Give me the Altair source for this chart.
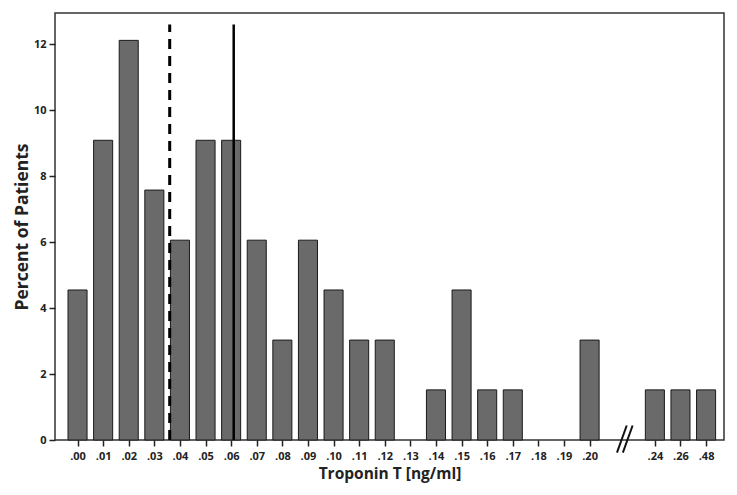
import altair as alt
import pandas as pd

# ---- data ----
labels = [".00", ".01", ".02", ".03", ".04", ".05", ".06", ".07", ".08", ".09",
          ".10", ".11", ".12", ".13", ".14", ".15", ".16", ".17", ".18", ".19",
          ".20", ".24", ".26", ".48"]
percent = [4.55, 9.09, 12.12, 7.58, 6.06, 9.09, 9.09, 6.06, 3.03, 6.06,
           4.55, 3.03, 3.03, 0, 1.52, 4.55, 1.52, 1.52, 0, 0,
           3.03, 1.52, 1.52, 1.52]
dashed_cutoff = 0.036   # ng/ml
solid_cutoff = 0.061    # ng/ml
line_top = 12.6
y_ticks = [0, 2, 4, 6, 8, 10, 12]

# ---- layout helpers ----
BREAK_SHIFT = 1.55
BAR_HALF = 0.372


def slot(i):
    return i if i <= 20 else i + BREAK_SHIFT


pos = [float(slot(i)) for i in range(len(labels))]
df = pd.DataFrame({"label": labels, "percent": percent, "pos": pos})
df = df[df["percent"] > 0].copy()
df["x0"] = df["pos"] - BAR_HALF
df["x1"] = df["pos"] + BAR_HALF

FONT = "Open Sans"
xscale = alt.Scale(domain=[-0.88, 25.25], nice=False, zero=False)
yscale = alt.Scale(domain=[0, 12.95], nice=False, zero=False)

label_js = "[" + ",".join(f"'{l}'" for l in labels) + "]"
xaxis = alt.Axis(
    values=pos,
    labelExpr=f"{label_js}[datum.value < 21 ? round(datum.value) : round(datum.value - {BREAK_SHIFT})]",
    title="Troponin T [ng/ml]",
    grid=False, domain=False,
    labelOverlap=False, labelBound=False, labelFlush=False,
    tickSize=6, tickColor="#222", tickWidth=1.5,
    labelFont=FONT, labelFontSize=11, labelFontWeight="bold", labelColor="#222",
    labelPadding=4, labelAngle=0,
    titleFont=FONT, titleFontSize=15.5, titleFontWeight="bold", titleColor="#222",
    titlePadding=5,
)
yaxis = alt.Axis(
    values=y_ticks,
    title="Percent of Patients",
    grid=False, domain=False,
    labelOverlap=False,
    tickSize=6, tickColor="#222", tickWidth=1.5,
    labelFont=FONT, labelFontSize=11, labelFontWeight="bold", labelColor="#222",
    labelPadding=3,
    titleFont=FONT, titleFontSize=17.5, titleFontWeight="bold", titleColor="#222",
    titlePadding=2,
)

bars = alt.Chart(df).mark_bar(fill="#6a6a6a", stroke="#1a1a1a", strokeWidth=1).encode(
    x=alt.X("x0:Q", scale=xscale, axis=xaxis),
    x2="x1:Q",
    y=alt.Y("percent:Q", scale=yscale, axis=yaxis),
    y2=alt.datum(0),
)

lines_df = pd.DataFrame({"x": [dashed_cutoff * 100, solid_cutoff * 100],
                         "kind": ["dashed", "solid"]})
dashed = alt.Chart(lines_df[lines_df.kind == "dashed"]).mark_rule(
    color="black", strokeWidth=3, strokeDash=[10, 7]
).encode(x=alt.X("x:Q", scale=xscale, axis=xaxis),
         y=alt.Y(datum=0, scale=yscale, axis=yaxis), y2=alt.datum(line_top))
solid = alt.Chart(lines_df[lines_df.kind == "solid"]).mark_rule(
    color="black", strokeWidth=2.5
).encode(x=alt.X("x:Q", scale=xscale, axis=xaxis),
         y=alt.Y(datum=0, scale=yscale, axis=yaxis), y2=alt.datum(line_top))

brk_df = pd.DataFrame({"x": [21.07, 21.30], "x2": [21.45, 21.68],
                       "y": [-0.385, -0.385], "y2": [0.44, 0.44]})
brk = alt.Chart(brk_df).mark_rule(color="#111", strokeWidth=2).encode(
    x=alt.X("x:Q", scale=xscale, axis=xaxis), x2="x2:Q",
    y=alt.Y("y:Q", scale=yscale, axis=yaxis), y2="y2:Q"
)

chart = alt.layer(bars, dashed, solid, brk).properties(
    width=721, height=479, background="white",
    autosize=alt.AutoSizeParams(type="fit", contains="padding"),
).configure_axis(labelOverlap=False).configure_view(stroke="#333", strokeWidth=1.5)

chart.save("out.html", embed_options={"renderer": "svg", "actions": False})
